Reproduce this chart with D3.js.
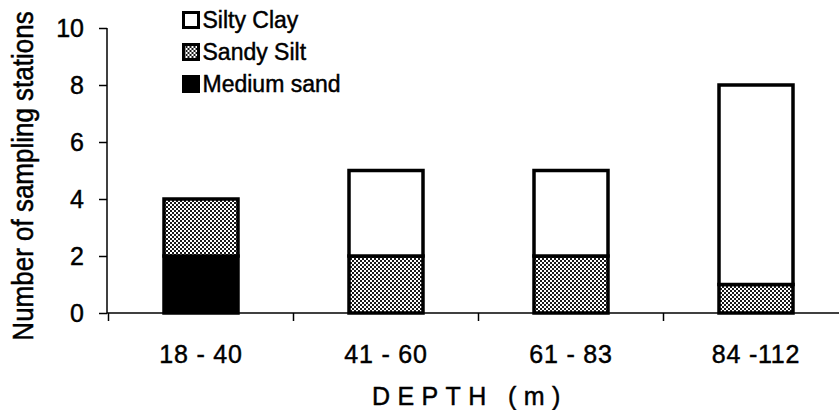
<!DOCTYPE html>
<html>
<head>
<meta charset="utf-8">
<script src="https://cdn.jsdelivr.net/npm/d3@7"></script>
<style>
  html, body { margin: 0; padding: 0; background: #fff; }
  svg { display: block; }
  text { font-family: "Liberation Sans", Arial, sans-serif; fill: #000; stroke: #000; stroke-width: 0.45px; }
</style>
</head>
<body>
<svg id="chart" width="839" height="410"></svg>
<script>
const categories = ["18 - 40", "41 - 60", "61 - 83", "84 -112"];
const mediumSand = [2, 0, 0, 0];
const sandySilt  = [2, 2, 2, 1];
const siltyClay  = [0, 3, 3, 7];
const yTicks = [0, 2, 4, 6, 8, 10];
const seriesNames = ["Medium sand", "Sandy Silt", "Silty Clay"];

const svg = d3.select("#chart");
const W = 839, H = 410;

// pattern for Sandy Silt
const defs = svg.append("defs");
const pat = defs.append("pattern").attr("id", "checker")
  .attr("width", 4).attr("height", 4).attr("patternUnits", "userSpaceOnUse");
pat.append("rect").attr("width", 4).attr("height", 4).attr("fill", "#fff");
pat.append("rect").attr("x", 0).attr("y", 0).attr("width", 2).attr("height", 2).attr("fill", "#1a1a1a");
pat.append("rect").attr("x", 2).attr("y", 2).attr("width", 2).attr("height", 2).attr("fill", "#1a1a1a");

const fills = { "Medium sand": "#000", "Sandy Silt": "url(#checker)", "Silty Clay": "#fff" };

const table = categories.map((c, i) => ({
  cat: c,
  "Medium sand": mediumSand[i],
  "Sandy Silt": sandySilt[i],
  "Silty Clay": siltyClay[i]
}));

const x = d3.scaleBand().domain(categories).range([108.5, 848.5])
  .paddingInner(0.6).paddingOuter(0.3);
const y = d3.scaleLinear().domain([0, 10]).range([313, 28]);
const step = x.step();

// Y axis
const yAxis = d3.axisLeft(y).tickValues(yTicks).tickSize(8).tickPadding(15);
const gy = svg.append("g").attr("transform", "translate(107,0)").call(yAxis);
gy.select(".domain").remove();
gy.selectAll(".tick line").attr("stroke", "#000").attr("stroke-width", 1.5);
gy.selectAll(".tick text").attr("font-size", 25).attr("fill", "#000")
  .attr("font-family", "Liberation Sans, Arial, sans-serif");
svg.append("line").attr("x1", 107).attr("x2", 107)
  .attr("y1", y(10)).attr("y2", y(0))
  .attr("stroke", "#000").attr("stroke-width", 1.5);

// X axis
const xAxis = d3.axisBottom(x).tickSize(0).tickPadding(0);
const gx = svg.append("g").attr("transform", `translate(0,${y(0)})`).call(xAxis);
gx.select(".domain").remove();
gx.selectAll(".tick text").attr("font-size", 25).attr("fill", "#000")
  .attr("letter-spacing", "0.8px")
  .attr("font-family", "Liberation Sans, Arial, sans-serif")
  .attr("y", 50).attr("dy", 0);
svg.append("line").attr("x1", 107).attr("x2", W)
  .attr("y1", y(0)).attr("y2", y(0))
  .attr("stroke", "#000").attr("stroke-width", 1.5);
const boundaries = categories.map(c => x(c) + x.bandwidth() / 2 - step / 2);
svg.selectAll(".xtick").data(boundaries).join("line")
  .attr("class", "xtick")
  .attr("x1", d => d).attr("x2", d => d)
  .attr("y1", y(0)).attr("y2", y(0) + 8)
  .attr("stroke", "#000").attr("stroke-width", 1.5);

// Stacked bars
const stacked = d3.stack().keys(seriesNames)(table);
const groups = svg.append("g").selectAll("g").data(stacked).join("g")
  .attr("fill", d => fills[d.key]);
groups.selectAll("rect")
  .data(d => d.filter(p => p[1] - p[0] > 0))
  .join("rect")
  .attr("x", d => x(d.data.cat))
  .attr("width", x.bandwidth())
  .attr("y", d => y(d[1]))
  .attr("height", d => y(d[0]) - y(d[1]))
  .attr("stroke", "#000").attr("stroke-width", 3.5);

// Legend
const legendOrder = ["Silty Clay", "Sandy Silt", "Medium sand"];
const lg = svg.append("g");
const rows = lg.selectAll("g").data(legendOrder).join("g")
  .attr("transform", (d, i) => `translate(183.5,${20 + i * 32})`);
rows.append("rect").attr("x", 0).attr("y", -7.5).attr("width", 15).attr("height", 15)
  .attr("fill", d => fills[d]).attr("stroke", "#000").attr("stroke-width", 3);
rows.append("text").attr("x", 19).attr("dy", "0.36em")
  .attr("font-size", 23).text(d => d);

// Axis titles
svg.append("text")
  .attr("transform", "translate(33,176) rotate(-90) scale(1,1.15)")
  .attr("text-anchor", "middle")
  .attr("font-size", 26)
  .text("Number of sampling stations");

svg.append("text")
  .attr("x", 372).attr("y", 405)
  .attr("font-size", 25)
  .attr("letter-spacing", "7.4px")
  .text("DEPTH (m)");
</script>
</body>
</html>
